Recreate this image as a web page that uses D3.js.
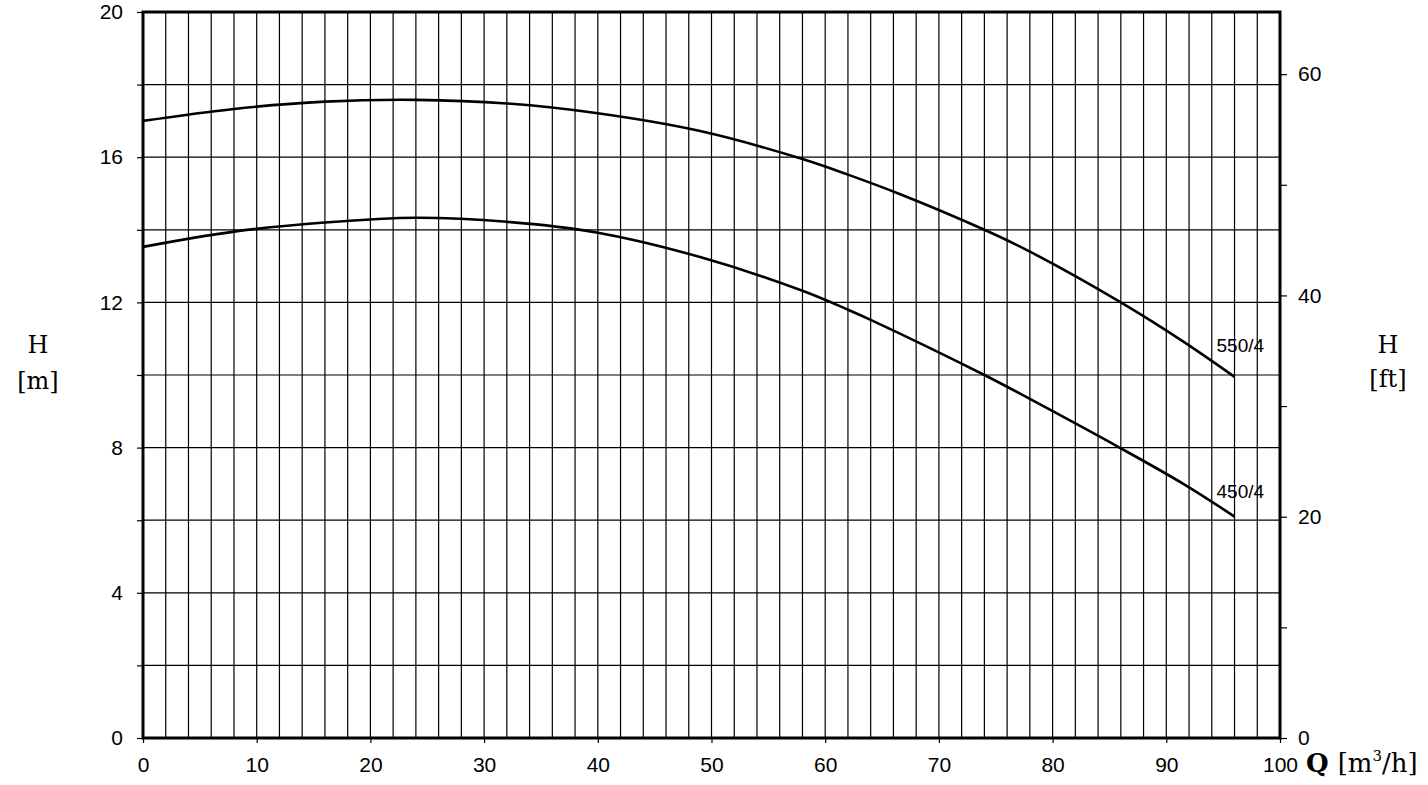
<!DOCTYPE html>
<html>
<head>
<meta charset="utf-8">
<script src="https://cdn.jsdelivr.net/npm/d3@7"></script>
<style>
  body { margin: 0; background: #fff; }
  svg { display: block; }
  .tick text { font-family: "Liberation Sans", Arial, sans-serif; font-size: 21px; fill: #000; }
  .title { font-family: "DejaVu Serif", "Liberation Serif", serif; font-size: 24px; fill: #000; }
  .curve-label { font-family: "Liberation Sans", Arial, sans-serif; font-size: 19px; fill: #000; }
</style>
</head>
<body>
<div id="chart"></div>
<script>
// flow Q [m3/h] and head H [m]
const q550 = [0, 8, 16, 24, 32, 40, 49, 58, 62, 66.6, 74, 78, 86, 91.5, 96];
const h550 = [17.0, 17.33, 17.53, 17.58, 17.48, 17.21, 16.72, 15.95, 15.52, 14.98, 14.0, 13.4, 12.0, 10.92, 9.95];
const q450 = [0, 8, 16, 24, 32, 40, 49, 58, 62, 64, 74, 78, 86, 91.5, 96];
const h450 = [13.53, 13.95, 14.2, 14.33, 14.22, 13.92, 13.25, 12.32, 11.8, 11.52, 10.0, 9.34, 7.98, 7.0, 6.1];
const curveNames = ['550/4', '450/4'];

const qTicks = d3.range(0, 101, 10);
const hTicks = d3.range(0, 21, 2);
const ftTicks = d3.range(0, 61, 10);

const width = 1428, height = 785;
const margin = {top: 12, right: 148, bottom: 47, left: 143};
const M_TO_FT = 3.28084;

const svg = d3.select('#chart').append('svg')
    .attr('width', width)
    .attr('height', height);

const x = d3.scaleLinear().domain([0, 100]).range([margin.left, width - margin.right]);
const y = d3.scaleLinear().domain([0, 20]).range([height - margin.bottom, margin.top]);
const yFt = d3.scaleLinear().domain([0, 20 * M_TO_FT]).range(y.range());

// grid
const grid = svg.append('g').attr('stroke', '#000').attr('stroke-width', 1.2);
grid.selectAll('.vg').data(d3.range(2, 100, 2)).enter().append('line')
    .attr('x1', d => x(d)).attr('x2', d => x(d))
    .attr('y1', y(0)).attr('y2', y(20));
grid.selectAll('.hg').data(hTicks.slice(1, -1)).enter().append('line')
    .attr('y1', d => y(d)).attr('y2', d => y(d))
    .attr('x1', x(0)).attr('x2', x(100));

// axes
const leftAxis = d3.axisLeft(y).tickValues(hTicks).tickSize(6).tickPadding(14)
    .tickFormat(d => d % 4 === 0 ? d : '');
const bottomAxis = d3.axisBottom(x).tickValues(qTicks).tickSize(5).tickPadding(14);
const rightAxis = d3.axisRight(yFt).tickValues(ftTicks).tickSize(7).tickPadding(11)
    .tickFormat(d => d % 20 === 0 ? d : '');

[
  [leftAxis, `translate(${x(0)},0)`],
  [bottomAxis, `translate(0,${y(0)})`],
  [rightAxis, `translate(${x(100)},0)`]
].forEach(([ax, tr]) => {
    const g = svg.append('g').attr('transform', tr).call(ax);
    g.select('.domain').remove();
    g.selectAll('.tick line').attr('stroke', '#000').attr('stroke-width', 1.2);
});

// frame
svg.append('rect')
    .attr('x', x(0)).attr('y', y(20))
    .attr('width', x(100) - x(0)).attr('height', y(0) - y(20))
    .attr('fill', 'none').attr('stroke', '#000').attr('stroke-width', 3);

// curves
const line = d3.line()
    .x(d => x(d[0]))
    .y(d => y(d[1]))
    .curve(d3.curveCatmullRom.alpha(0.5));

const series = [
    {name: curveNames[0], pts: d3.zip(q550, h550), dy: -25},
    {name: curveNames[1], pts: d3.zip(q450, h450), dy: -19}
];

svg.selectAll('.curve').data(series).enter().append('path')
    .attr('class', 'curve')
    .attr('d', d => line(d.pts))
    .attr('fill', 'none')
    .attr('stroke', '#000')
    .attr('stroke-width', 2.6);

svg.selectAll('.curve-label').data(series).enter().append('text')
    .attr('class', 'curve-label')
    .attr('x', d => x(d.pts[d.pts.length - 1][0]) - 18)
    .attr('y', d => y(d.pts[d.pts.length - 1][1]) + d.dy)
    .text(d => d.name);

// axis titles
const titles = svg.append('g').attr('class', 'title');
titles.append('text').attr('x', 38).attr('y', 353).attr('text-anchor', 'middle').text('H');
titles.append('text').attr('x', 38).attr('y', 389).attr('text-anchor', 'middle').text('[m]');
titles.append('text').attr('x', 1388).attr('y', 353).attr('text-anchor', 'middle').text('H');
titles.append('text').attr('x', 1388).attr('y', 387).attr('text-anchor', 'middle').text('[ft]');

const qt = titles.append('text').attr('x', 1306).attr('y', 772).attr('font-size', 26);
qt.append('tspan').attr('font-weight', 'bold').text('Q ');
qt.append('tspan').text('[m');
qt.append('tspan').attr('font-size', 15).attr('dy', -11).text('3');
qt.append('tspan').attr('dy', 11).text('/h]');
</script>
</body>
</html>
